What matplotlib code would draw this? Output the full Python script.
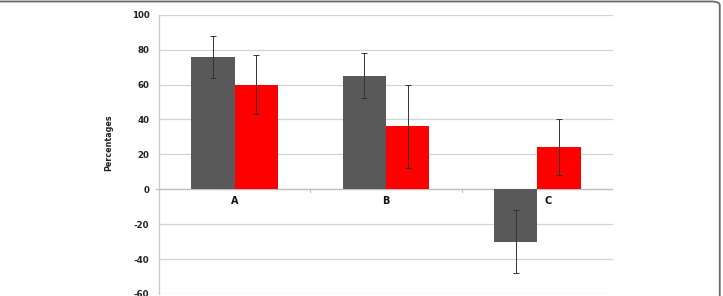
import numpy as np
import matplotlib
matplotlib.use("Agg")
import matplotlib.pyplot as plt
from matplotlib.patches import FancyBboxPatch

categories = ["A", "B", "C"]
dark_values = [76, 65, -30]
dark_errors = [12, 13, 18]
red_values = [60, 36, 24]
red_errors = [17, 24, 16]
y_ticks = [-60, -40, -20, 0, 20, 40, 60, 80, 100]

fig = plt.figure(figsize=(7.23, 2.96), dpi=100)
ax = fig.add_axes([0.22, 0.0068, 0.628, 0.9435])

x = np.arange(len(categories))
w = 0.286
err_style = dict(ecolor="#333333", elinewidth=0.7, capsize=2, capthick=0.7)
ax.bar(x - w / 2, dark_values, w, color="#595959", yerr=dark_errors,
       error_kw=err_style, zorder=3)
ax.bar(x + w / 2, red_values, w, color="#ff0000", yerr=red_errors,
       error_kw=err_style, zorder=3)

ax.set_xlim(-0.5, len(categories) - 0.5)
ax.set_ylim(-60, 100)
ax.set_yticks(y_ticks)
ax.set_yticklabels([str(t) for t in y_ticks], fontsize=6.2, fontweight="bold",
                   color="#222222")
ax.tick_params(axis="y", length=0, pad=7)
ax.grid(axis="y", color="#d4d4d4", linewidth=0.9, zorder=0)
ax.set_axisbelow(True)

for s in ["top", "right", "bottom"]:
    ax.spines[s].set_visible(False)
ax.spines["left"].set_color("#c8c8c8")
ax.spines["left"].set_linewidth(0.9)

# x axis sits on the zero line, with small ticks between categories
ax.axhline(0, color="#bdbdbd", linewidth=0.9, zorder=2)
ax.set_xticks([])
for b in np.arange(-0.5, len(categories), 1.0)[1:]:
    ax.plot([b, b], [0, -1.5], color="#bdbdbd", linewidth=0.8, zorder=2)
ax.plot([-0.52, -0.5], [0, 0], color="#bdbdbd", linewidth=0.9,
        clip_on=False)
label_shift = [0, 0, 0.07]
for i, c in enumerate(categories):
    ax.text(x[i] + label_shift[i], -7, c, ha="center", va="center",
            fontsize=7, fontweight="bold", color="#111111")

ax.set_ylabel("Percentages", fontsize=5.8, fontweight="bold", color="#222222")
ax.yaxis.set_label_coords(-0.1, 0.54)

# rounded border of the panel, cropped at the bottom and left
frame = FancyBboxPatch((-0.01, -0.2), 1.0055, 1.195,
                       boxstyle="round,pad=0,rounding_size=0.012",
                       transform=fig.transFigure, fill=False,
                       edgecolor="#6a6a6a", linewidth=1.3)
fig.patches.append(frame)

fig.savefig("out.png", dpi=100)
